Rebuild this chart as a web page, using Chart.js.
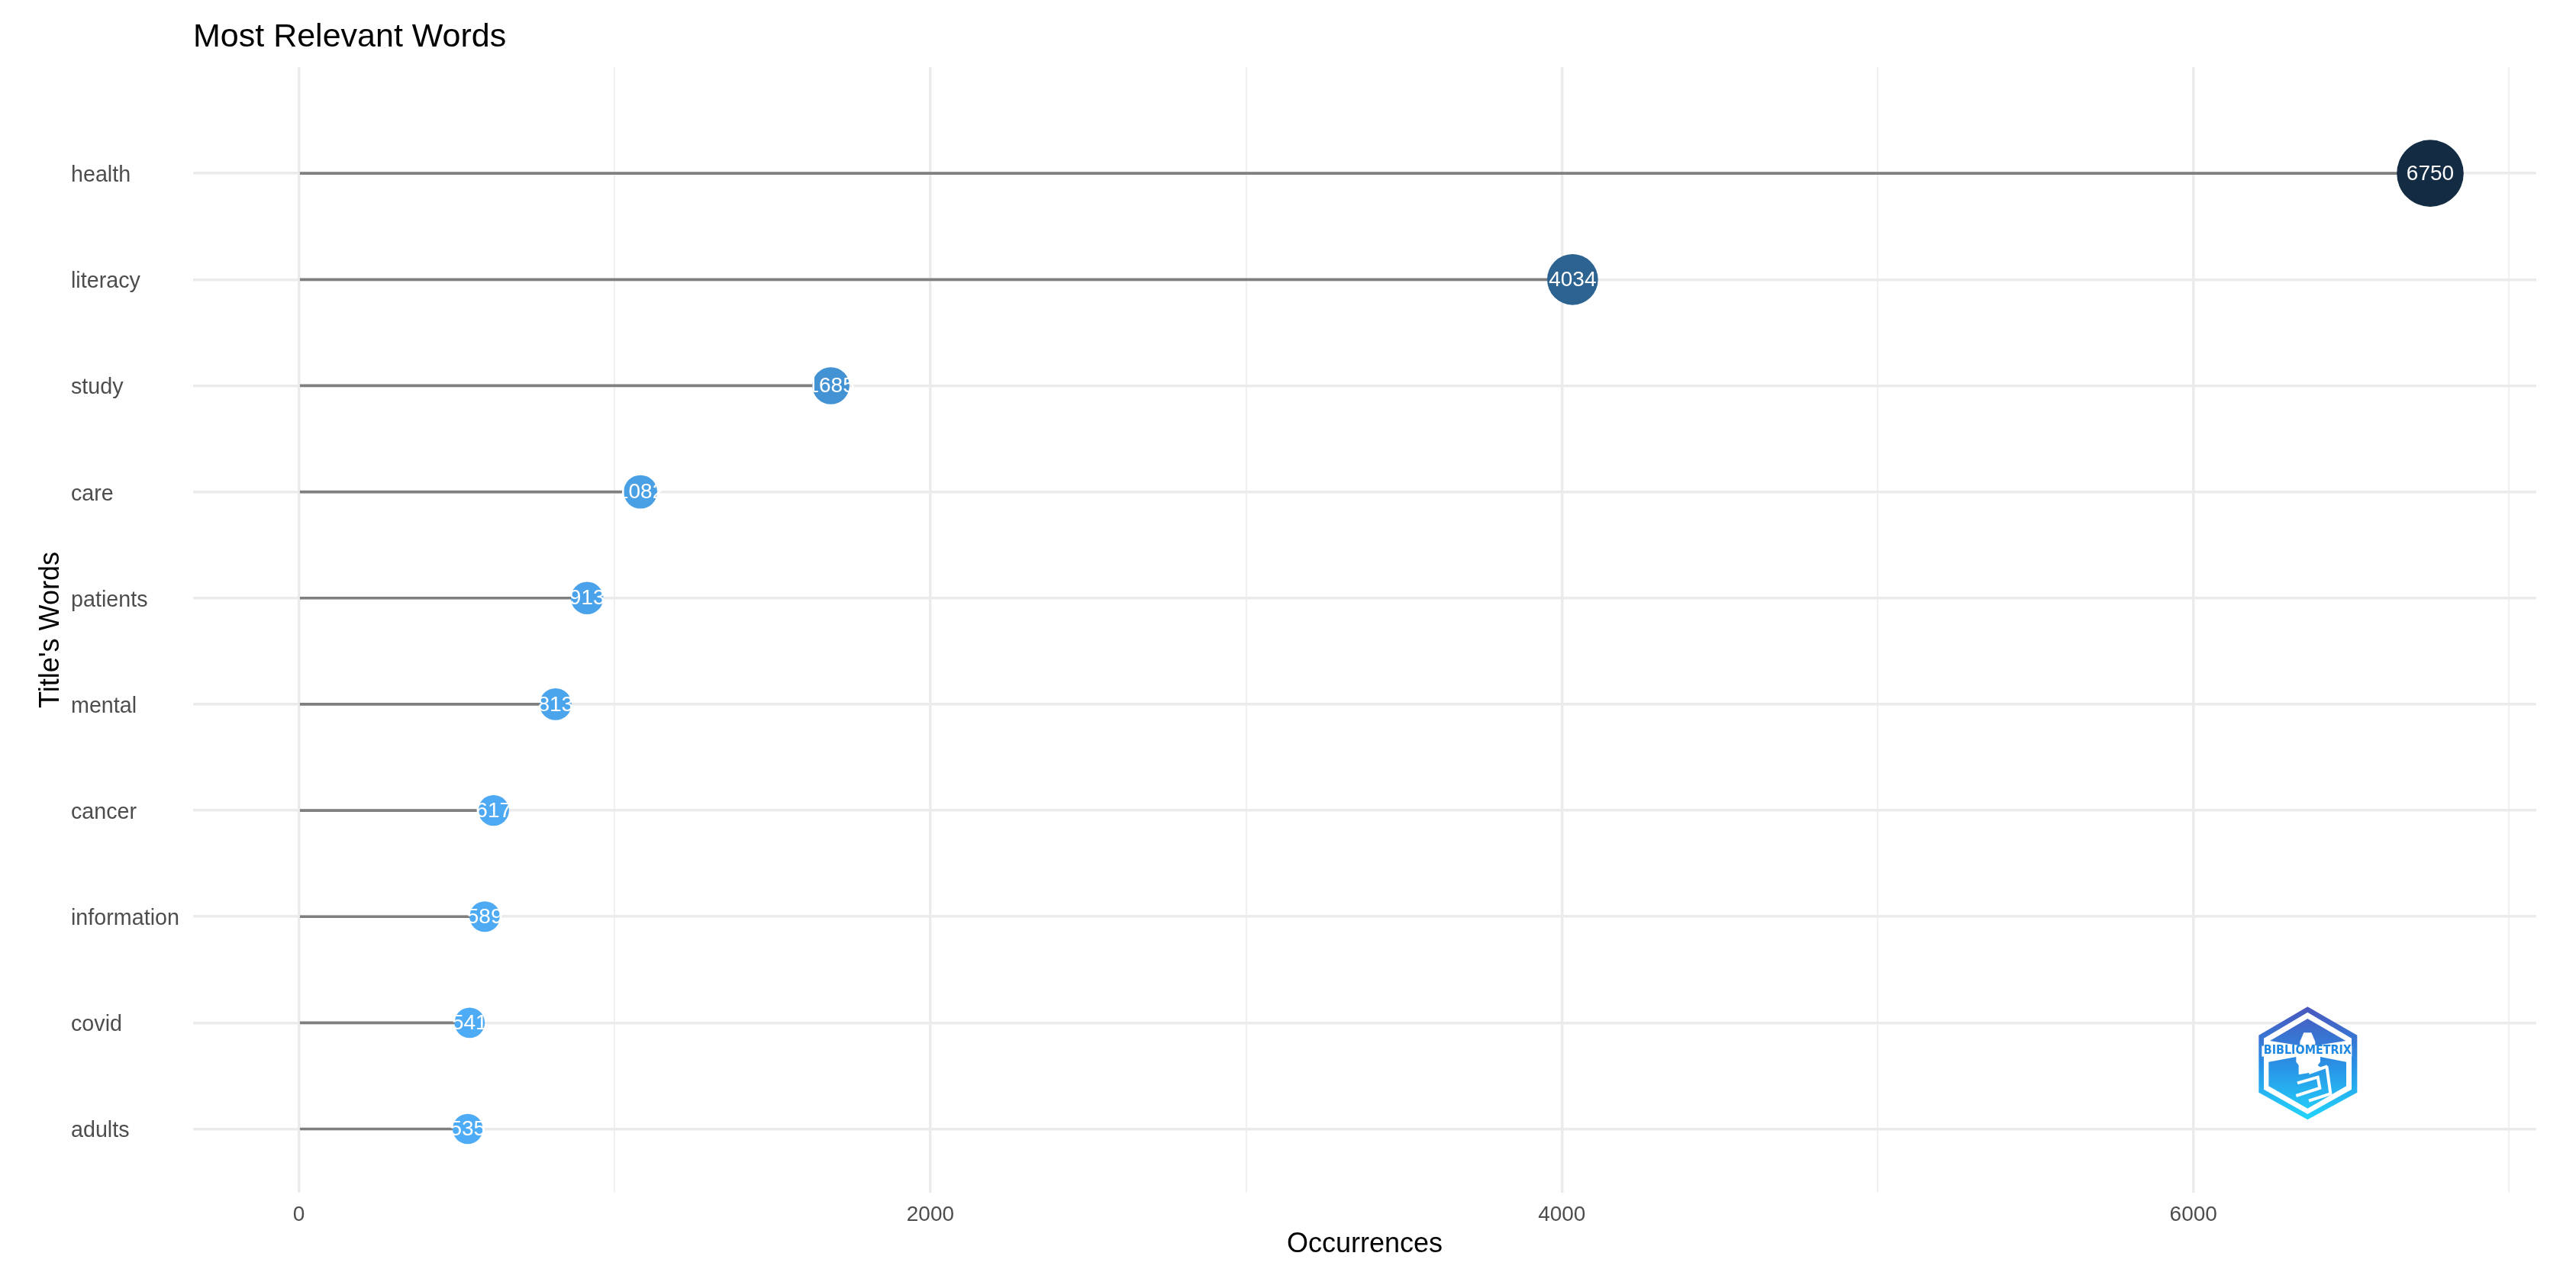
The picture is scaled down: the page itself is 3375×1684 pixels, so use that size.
<!DOCTYPE html>
<html>
<head>
<meta charset="utf-8">
<title>Most Relevant Words</title>
<script src="https://cdn.jsdelivr.net/npm/chart.js@4"></script>
<style>
  html, body { margin: 0; padding: 0; background: #fff; }
  canvas { display: block; }
</style>
</head>
<body>
<canvas id="wordsChart" width="3375" height="1684"></canvas>
<script>
const words = ['health', 'literacy', 'study', 'care', 'patients', 'mental', 'cancer', 'information', 'covid', 'adults'];
const occurrences = [6750, 4034, 1685, 1082, 913, 813, 617, 589, 541, 535];
const xTickValues = [0, 1000, 2000, 3000, 4000, 5000, 6000, 7000];

const FONT = '"Liberation Sans", Arial, sans-serif';
const LOW = [78, 171, 245];
const HIGH = [19, 43, 67];
const minVal = Math.min(...occurrences);
const maxVal = Math.max(...occurrences);

// circle size and colour follow the value, like the ggplot legend scales
function dotRadius(v) { return 17.8 + 0.00385 * v; }
function dotColor(v) {
    const t = (v - minVal) / (maxVal - minVal);
    const c = LOW.map((l, i) => Math.round(l + (HIGH[i] - l) * t));
    return `rgb(${c[0]},${c[1]},${c[2]})`;
}

// white value text in the middle of each circle
const valueLabels = {
    id: 'valueLabels',
    afterDatasetsDraw(chart) {
        const ctx = chart.ctx;
        const meta = chart.getDatasetMeta(1);
        ctx.save();
        ctx.fillStyle = '#fff';
        ctx.font = `28px ${FONT}`;
        ctx.textAlign = 'center';
        ctx.textBaseline = 'middle';
        meta.data.forEach((pt, i) => ctx.fillText(String(occurrences[i]), pt.x, pt.y + 1));
        ctx.restore();
    }
};

// bibliometrix badge in the lower right corner
const logo = {
    id: 'logo',
    afterDraw(chart) {
        const ctx = chart.ctx;
        const px = x => 2850 + x / 3;
        const py = y => 1260 + y / 3;
        const grad = ctx.createLinearGradient(0, py(178), 0, py(622));
        grad.addColorStop(0, '#4a57bd');
        grad.addColorStop(0.5, '#2a8fe4');
        grad.addColorStop(1, '#22d6fc');
        const trace = pts => {
            ctx.beginPath();
            pts.forEach((p, i) => i ? ctx.lineTo(px(p[0]), py(p[1])) : ctx.moveTo(px(p[0]), py(p[1])));
        };
        const poly = (pts, fill) => {
            trace(pts);
            ctx.closePath();
            ctx.fillStyle = fill;
            ctx.fill();
        };
        const stroke = pts => {
            trace(pts);
            ctx.strokeStyle = '#fff';
            ctx.lineWidth = 4;
            ctx.lineJoin = 'miter';
            ctx.stroke();
        };
        ctx.save();
        poly([[520, 178], [715, 290], [715, 515], [520, 622], [328, 515], [328, 290]], grad);
        poly([[520, 200], [693, 302], [693, 503], [520, 600], [348, 503], [348, 302]], '#fff');
        poly([[520, 225], [670, 312], [555, 330], [485, 330], [372, 312]], grad);
        poly([[367, 395], [475, 375], [570, 375], [672, 395], [672, 490], [520, 578], [367, 490]], grad);
        // lighthouse
        poly([[505, 280], [535, 280], [550, 315], [550, 340], [490, 340], [490, 315]], '#fff');
        poly([[475, 372], [570, 372], [570, 395], [560, 408], [575, 420], [525, 438], [485, 445], [485, 408], [475, 395]], '#fff');
        stroke([[525, 438], [598, 412]]);
        stroke([[595, 412], [610, 520], [525, 548]]);
        stroke([[480, 478], [560, 455], [568, 498], [475, 528]]);
        ctx.fillStyle = '#fff';
        ctx.fillRect(px(340), py(332), 118, 14);
        ctx.fillStyle = '#1e88e2';
        ctx.font = `bold 15px "DejaVu Sans", ${FONT}`;
        ctx.textAlign = 'center';
        ctx.textBaseline = 'middle';
        ctx.fillText('BIBLIOMETRIX', px(520), py(352), 115);
        ctx.restore();
    }
};

new Chart(document.getElementById('wordsChart'), {
    data: {
        datasets: [
            {
                type: 'bar',
                indexAxis: 'y',
                data: occurrences.map((v, i) => ({ x: v, y: i })),
                backgroundColor: '#7f7f7f',
                barThickness: 3,
                order: 2
            },
            {
                type: 'scatter',
                data: occurrences.map((v, i) => ({ x: v, y: i })),
                pointRadius: ctx => dotRadius(occurrences[ctx.dataIndex]),
                pointBackgroundColor: ctx => dotColor(occurrences[ctx.dataIndex]),
                pointBorderWidth: 0,
                order: 1
            }
        ]
    },
    options: {
        responsive: false,
        animation: false,
        events: [],
        layout: { padding: { left: 93, right: 52, top: 0, bottom: 0 } },
        plugins: {
            legend: { display: false },
            tooltip: { enabled: false },
            title: {
                display: true,
                text: 'Most Relevant Words',
                align: 'start',
                fullSize: false,
                color: '#000',
                font: { family: FONT, size: 43, weight: 'normal', lineHeight: 1.2 },
                padding: { top: 23, bottom: 13.4 }
            }
        },
        scales: {
            x: {
                type: 'linear',
                min: -334.7,
                max: 7086,
                afterFit: s => { s.height = 121; },
                afterBuildTicks: s => { s.ticks = xTickValues.map(v => ({ value: v })); },
                border: { display: false },
                grid: {
                    color: ctx => (ctx.tick && ctx.tick.value % 2000 === 0 ? '#ebebeb' : '#f0f0f0'),
                    lineWidth: ctx => (ctx.tick && ctx.tick.value % 2000 === 0 ? 3.5 : 2),
                    drawTicks: false
                },
                ticks: {
                    autoSkip: false,
                    maxRotation: 0,
                    padding: 12,
                    color: '#4d4d4d',
                    font: { family: FONT, size: 28 },
                    callback: v => (v % 2000 === 0 ? String(v) : '')
                },
                title: {
                    display: true,
                    text: 'Occurrences',
                    color: '#000',
                    font: { family: FONT, size: 36, lineHeight: 1.2 },
                    padding: { top: 0, bottom: 31 }
                }
            },
            y: {
                type: 'linear',
                reverse: true,
                offset: false,
                min: -1,
                max: 9.6,
                afterFit: s => { s.width = 160; },
                afterBuildTicks: s => { s.ticks = words.map((w, i) => ({ value: i })); },
                border: { display: false },
                grid: { offset: false, color: '#ebebeb', lineWidth: 3.5, drawTicks: false },
                ticks: {
                    autoSkip: false,
                    crossAlign: 'far',
                    labelOffset: 3,
                    color: '#4d4d4d',
                    font: { family: FONT, size: 28.7 },
                    callback: v => words[v]
                },
                title: {
                    display: true,
                    text: "Title's Words",
                    color: '#000',
                    font: { family: FONT, size: 36, lineHeight: 1.2 },
                    padding: { top: -48, bottom: 0 }
                }
            }
        }
    },
    plugins: [valueLabels, logo]
});
</script>
</body>
</html>
